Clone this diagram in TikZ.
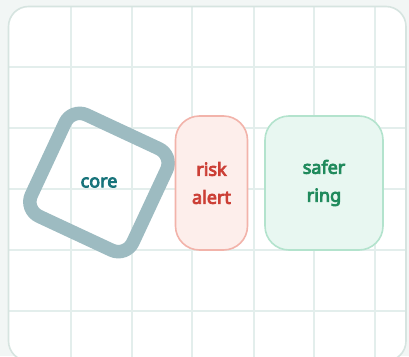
\documentclass[tikz,border=0pt]{standalone}
\usepackage{fontspec}
\setmainfont{Noto Sans}[BoldFont={Noto Sans}, BoldFeatures={FakeBold=4.5}]
\definecolor{sfondo}{HTML}{F2F6F5}
\definecolor{bordopannello}{HTML}{D6E4E0}
\definecolor{griglia}{HTML}{E3EEEC}
\definecolor{nucleo}{HTML}{9DBBC1}
\definecolor{nucleotesto}{HTML}{17737A}
\definecolor{rischiofill}{HTML}{FDEEEB}
\definecolor{rischiobordo}{HTML}{F2B3AA}
\definecolor{rischiotesto}{HTML}{CC3F36}
\definecolor{sicurofill}{HTML}{E8F7F1}
\definecolor{sicurobordo}{HTML}{B3E3CD}
\definecolor{sicurotesto}{HTML}{1F8A5C}
\tikzset{
  etichetta/.style={font=\fontsize{18}{28}\selectfont\bfseries, align=center},
  scatola/.style={draw, line width=1.6pt, rounded corners=24pt,
    minimum height=134pt, inner sep=0pt},
}
\begin{document}
\begin{tikzpicture}[x=1pt, y=-1pt]
            % Sfondo e cornice
            \fill[sfondo] (0,0) rectangle (409,356);
            \useasboundingbox (0,0) rectangle (409,356);
            \fill[white, rounded corners=20pt] (8.5,6.5) rectangle (406,361);

            % Griglia
            \begin{scope}
                \clip[rounded corners=20pt] (8.5,6.5) rectangle (406,361);
                \foreach \x in {71,132,192,254,314,375}
                    \draw[griglia, line width=2.6pt] (\x,0) -- (\x,370);
                \foreach \y in {67,128,189,250,311}
                    \draw[griglia, line width=2.6pt] (0,\y) -- (420,\y);
            \end{scope}
            \draw[bordopannello, line width=1.6pt, rounded corners=20pt] (8.5,6.5) rectangle (406,361);

            % Nucleo ruotato
            \node[draw=nucleo, line width=13.5pt, rounded corners=16pt, minimum size=112pt,
                  inner sep=0pt, rotate=-25] (nucleo) at (99,182.5) {};
            \node[etichetta, text=nucleotesto] (core) at (nucleo.center) {core};

            % Allerta e anello
            \node[scatola, draw=rischiobordo, fill=rischiofill, text=rischiotesto,
                  minimum width=72pt, etichetta] (rischio) at (211.5,183) {risk\\alert};
            \node[scatola, draw=sicurobordo, fill=sicurofill, text=sicurotesto,
                  minimum width=118pt, etichetta] (anello) at (324,183) {safer\\ring};
\end{tikzpicture}
\end{document}
